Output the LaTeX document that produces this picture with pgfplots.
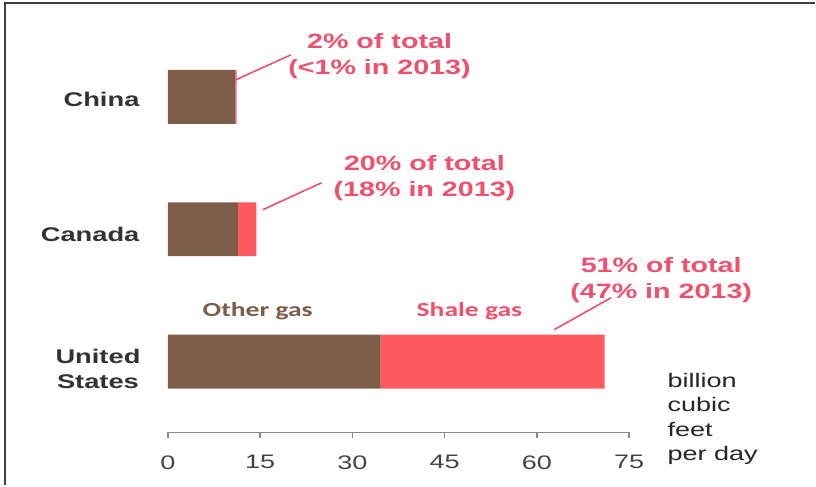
\documentclass[border=0pt]{standalone}
\usepackage{pgfplots}
\pgfplotsset{compat=1.18}
\usepackage{fontspec}
\setmainfont{Liberation Sans}[FakeStretch=1.38]
\newfontfamily\calfont{Carlito}[FakeStretch=1.38]

\definecolor{othergas}{HTML}{7D5C4A}
\definecolor{shalegas}{HTML}{FF5A60}
\definecolor{notecol}{HTML}{F0506C}
\definecolor{axisgray}{HTML}{8A8A8A}
\definecolor{ticktext}{HTML}{444444}
\definecolor{labeltext}{HTML}{333333}

\begin{document}
\begin{tikzpicture}
% page frame, 1 unit = 0.5pt, y measured downward from the top edge
\begin{scope}[x=0.5pt,y=-0.5pt,shift={(0,243pt)}]
  \path (0,0) rectangle (816,486);
  \draw[line width=1pt,black!75] (5,486) -- (5,3) -- (816,3);
\end{scope}

\begin{axis}[
  at={(84pt,26.5pt)}, anchor=south west,
  scale only axis,
  width=231pt, height=201.5pt,
  xmin=0, xmax=75,
  ymin=-0.536, ymax=2.506,
  xbar stacked,
  bar width=27pt,
  axis x line=bottom,
  axis y line=none,
  axis line style={axisgray, line width=0.8pt, -},
  xtick={0,15,30,45,60,75},
  tick align=outside,
  major tick length=3pt,
  tick style={axisgray, line width=0.8pt},
  xticklabel style={font=\fontsize{9.8}{12}\selectfont, text=ticktext, yshift=-5pt},
  /pgf/number format/assume math mode=true,
  clip=false,
]
% other gas
\addplot[fill=othergas, draw=none] coordinates {(34.6,0) (11.4,1) (11.0,2)};
% shale gas
\addplot[fill=shalegas, draw=none] coordinates {(36.4,0) (3.0,1) (0.2,2)};

% country names
\tikzset{country/.style={anchor=east, inner sep=0pt, align=center, text=labeltext,
  font=\bfseries\fontsize{9.9}{12.5}\selectfont}}
\node[country] at (axis cs:0,2) [xshift=-14pt, yshift=-1.5pt] {China};
\node[country] at (axis cs:0,1) [xshift=-14pt, yshift=-2.5pt] {Canada};
\node[country] at (axis cs:0,0) [xshift=-13.5pt, yshift=-3.5pt] {United\\States};
\end{axis}

% annotations and labels, positioned on the page grid
\begin{scope}[x=0.5pt,y=-0.5pt,shift={(0,243pt)}]
  \tikzset{note/.style={text=notecol, font=\bfseries\fontsize{10.4}{13}\selectfont, align=center}}
  % China
  \node[note] at (380,56) {2\% of total\\(<1\% in 2013)};
  \draw[notecol, line width=0.8pt] (236,80) -- (291,55);
  % Canada
  \node[note] at (425,178) {20\% of total\\(18\% in 2013)};
  \draw[notecol, line width=0.8pt] (263,210) -- (322,183);
  % United States
  \node[note] at (662,280) {51\% of total\\(47\% in 2013)};
  \draw[notecol, line width=0.8pt] (555,330) -- (612,298);
  % series names
  \node[text=othergas, font=\calfont\bfseries\fontsize{10}{12}\selectfont] at (258,309) [yshift=-1.5pt] {Other gas};
  \node[text=notecol, font=\calfont\bfseries\fontsize{10}{12}\selectfont] at (470,309) [yshift=-1.5pt] {Shale gas};
  % unit
  \node[anchor=north west, align=left, inner sep=0pt, text=black!85,
        font=\fontsize{9.8}{12.25}\selectfont] at (668,373) {billion\\cubic\\feet\\per day};
\end{scope}
\end{tikzpicture}
\end{document}
